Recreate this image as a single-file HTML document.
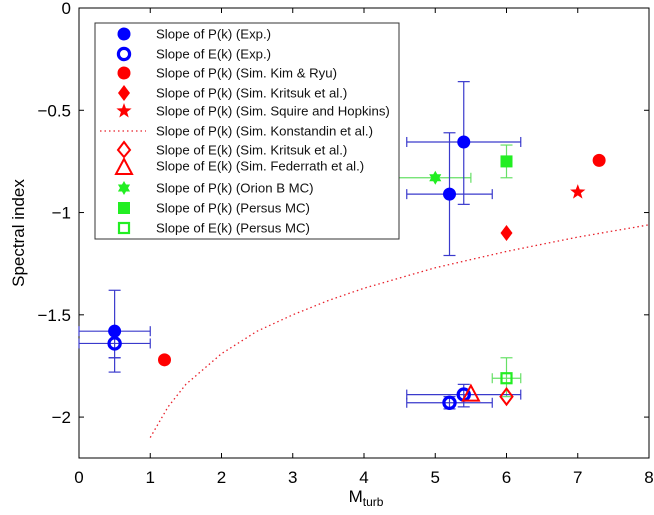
<!DOCTYPE html>
<html><head><meta charset="utf-8">
<style>
html,body{margin:0;padding:0;background:#fff;}
svg{display:block;font-family:"Liberation Sans",sans-serif;}
</style></head>
<body>
<svg id="chart" width="654" height="515" viewBox="0 0 654 515">
<g id="axes"></g>
<g id="marks"></g>
<g id="legend"></g>
<text x="366" y="502" font-size="17" text-anchor="middle">M<tspan font-size="12" dy="4">turb</tspan></text>
<text transform="translate(24,233) rotate(-90)" font-size="17" text-anchor="middle">Spectral index</text>
</svg>
<script>
const xTicks=[0,1,2,3,4,5,6,7,8];
const yTicks=[0,-0.5,-1,-1.5,-2];
const yTickLabels=["0","\u22120.5","\u22121","\u22121.5","\u22122"];
// series: [x, y, xlo, xhi, ylo, yhi]
const expP=[[0.5,-1.58,0,1,-1.78,-1.38],[5.2,-0.91,4.6,5.8,-1.21,-0.61],[5.4,-0.655,4.6,6.2,-0.96,-0.36]];
const expE=[[0.5,-1.64,0,1,-1.71,-1.71],[5.2,-1.93,4.6,5.8,-1.96,-1.90],[5.4,-1.89,4.6,6.2,-1.95,-1.84]];
const kimRyuX=[1.2,7.3], kimRyuY=[-1.72,-0.745];
const kritsukPX=[6], kritsukPY=[-1.1];
const squireX=[7], squireY=[-0.9];
const konX=[1,1.25,1.5,2,2.5,3,3.5,4,5,6,7,8];
const konY=[-2.1,-1.95,-1.84,-1.69,-1.58,-1.5,-1.43,-1.37,-1.27,-1.19,-1.12,-1.06];
const kritsukEX=[6], kritsukEY=[-1.9];
const federrathX=[5.5], federrathY=[-1.89];
const orion=[[5.0,-0.83,4.4,5.5,-0.83,-0.83]];
const persusP=[[6,-0.75,6,6,-0.83,-0.67]];
const persusE=[[6,-1.81,5.8,6.2,-1.9,-1.71]];

const L=79,R=649,T=8,B=458;
const sx=v=>L+(v-0)/8*(R-L);
const sy=v=>T+(0-v)/2.2*(B-T);
const NS="http://www.w3.org/2000/svg";
function mk(tag,attrs,parent){const e=document.createElementNS(NS,tag);for(const k in attrs)e.setAttribute(k,attrs[k]);parent.appendChild(e);return e;}
const axes=document.getElementById('axes'),marks=document.getElementById('marks'),leg=document.getElementById('legend');

let fr=mk('rect',{x:L,y:T,width:R-L,height:B-T,fill:'none',stroke:'#000','stroke-width':1},axes);

xTicks.forEach(v=>{const x=sx(v);
 mk('line',{x1:x,y1:B,x2:x,y2:B-5,stroke:'#000'},axes);
 mk('line',{x1:x,y1:T,x2:x,y2:T+5,stroke:'#000'},axes);
 const t=mk('text',{x:x,y:B+25,'font-size':17,'text-anchor':'middle'},axes);t.textContent=v;
 });
yTicks.forEach((v,i)=>{const y=sy(v);
 mk('line',{x1:L,y1:y,x2:L+5,y2:y,stroke:'#000'},axes);
 mk('line',{x1:R,y1:y,x2:R-5,y2:y,stroke:'#000'},axes);
 const t=mk('text',{x:L-8,y:y+6,'font-size':17,'text-anchor':'end'},axes);t.textContent=yTickLabels[i];
 });

function errbars(d,col){d.forEach(p=>{const g=mk('g',{stroke:col,'stroke-width':1.2,fill:'none'},marks);
 
 const cx=sx(p[0]),cy=sy(p[1]);
 if(p[2]!==p[3]){mk('line',{x1:sx(p[2]),y1:cy,x2:sx(p[3]),y2:cy},g);
  [p[2],p[3]].forEach(v=>mk('line',{x1:sx(v),y1:cy-5,x2:sx(v),y2:cy+5},g));}
 if(p[4]!==p[5]||p[4]!==p[1]){mk('line',{x1:cx,y1:sy(p[4]),x2:cx,y2:sy(p[5])},g);
  [p[4],p[5]].forEach(v=>mk('line',{x1:cx-6,y1:sy(v),x2:cx+6,y2:sy(v)},g));}
});}
function marker(type,cx,cy,col,parent,s){s=s||1;let e;
 if(type==='fcircle')e=mk('circle',{cx,cy,r:6.5*s,fill:col},parent);
 else if(type==='ocircle')e=mk('circle',{cx,cy,r:5.6*s,fill:'none',stroke:col,'stroke-width':3.2},parent);
 else if(type==='fdiamond')e=mk('polygon',{points:`${cx},${cy-8} ${cx+6},${cy} ${cx},${cy+8} ${cx-6},${cy}`,fill:col},parent);
 else if(type==='odiamond')e=mk('polygon',{points:`${cx},${cy-8} ${cx+6},${cy} ${cx},${cy+8} ${cx-6},${cy}`,fill:'none',stroke:col,'stroke-width':2},parent);
 else if(type==='star'){let p=[];for(let i=0;i<10;i++){const a=-Math.PI/2+i*Math.PI/5,r=i%2?3.3:8;p.push((cx+r*Math.cos(a)).toFixed(1)+','+(cy+r*Math.sin(a)).toFixed(1));}e=mk('polygon',{points:p.join(' '),fill:col},parent);}
 else if(type==='hex'){let p=[];for(let i=0;i<12;i++){const a=-Math.PI/2+i*Math.PI/6,r=i%2?4:7;p.push((cx+r*Math.cos(a)).toFixed(1)+','+(cy+r*Math.sin(a)).toFixed(1));}e=mk('polygon',{points:p.join(' '),fill:col},parent);}
 else if(type==='otri')e=mk('polygon',{points:`${cx},${cy-9} ${cx+8},${cy+6} ${cx-8},${cy+6}`,fill:'none',stroke:col,'stroke-width':2},parent);
 else if(type==='fsquare')e=mk('rect',{x:cx-6,y:cy-6,width:12,height:12,fill:col},parent);
 else if(type==='osquare')e=mk('rect',{x:cx-5,y:cy-5,width:10,height:10,fill:'none',stroke:col,'stroke-width':2.2},parent);
 return e;}

const kon=mk('polyline',{points:konX.map((x,i)=>sx(x)+','+sy(konY[i])).join(' '),fill:'none',stroke:'#e8202a','stroke-width':1.3,'stroke-dasharray':'1.5 3'},marks);


const BLUE='#0000ff',RED='#ff0000',GREEN='#22ee22',EB='#3a3acc',GEB='#66e066';
errbars(orion,GEB);errbars(persusP,GEB);errbars(persusE,GEB);
errbars(expP,EB);errbars(expE,EB);
function pts(xs,ys,type,col,name){xs.forEach((x,i)=>{const e=marker(type,sx(x),sy(ys[i]),col,marks);
 });}
pts(expP.map(p=>p[0]),expP.map(p=>p[1]),'fcircle',BLUE,'exp-p-point');
pts(expE.map(p=>p[0]),expE.map(p=>p[1]),'ocircle',BLUE,'exp-e-point');
pts(kimRyuX,kimRyuY,'fcircle',RED,'kim-ryu-point');
pts(kritsukPX,kritsukPY,'fdiamond',RED,'kritsuk-p-point');
pts(squireX,squireY,'star',RED,'squire-point');
pts(federrathX,federrathY,'otri',RED,'federrath-point');
pts(persusE.map(p=>p[0]),persusE.map(p=>p[1]),'osquare',GREEN,'persus-e-point');
pts(kritsukEX,kritsukEY,'odiamond',RED,'kritsuk-e-point');
pts(orion.map(p=>p[0]),orion.map(p=>p[1]),'hex',GREEN,'orion-point');
pts(persusP.map(p=>p[0]),persusP.map(p=>p[1]),'fsquare',GREEN,'persus-p-point');

const lb=mk('rect',{x:95,y:23,width:304,height:216,fill:'#fff',stroke:'#333','stroke-width':1},leg);

const entries=[['fcircle',BLUE,'Slope of P(k) (Exp.)',34],['ocircle',BLUE,'Slope of E(k) (Exp.)',54],['fcircle',RED,'Slope of P(k) (Sim. Kim & Ryu)',73],['fdiamond',RED,'Slope of P(k) (Sim. Kritsuk et al.)',93],['star',RED,'Slope of P(k) (Sim. Squire and Hopkins)',111],['line',RED,'Slope of P(k) (Sim. Konstandin et al.)',131],['odiamond',RED,'Slope of E(k) (Sim. Kritsuk et al.)',150],['otri',RED,'Slope of E(k) (Sim. Federrath et al.)',166],['hex',GREEN,'Slope of P(k) (Orion B MC)',188],['fsquare',GREEN,'Slope of P(k) (Persus MC)',208],['osquare',GREEN,'Slope of E(k) (Persus MC)',228]];
entries.forEach(en=>{const g=mk('g',{},leg);
 
 if(en[0]==='line')mk('line',{x1:100,y1:en[3],x2:146,y2:en[3],stroke:'#e8202a','stroke-width':1.2,'stroke-dasharray':'1.5 3'},g);
 else if(en[0]==='odiamond')mk('polygon',{points:`124,${en[3]-8} 130,${en[3]} 124,${en[3]+7} 118,${en[3]}`,fill:'none',stroke:RED,'stroke-width':2},g);
 else if(en[0]==='otri')mk('polygon',{points:`124,${en[3]-7} 132,${en[3]+8} 116,${en[3]+8}`,fill:'none',stroke:RED,'stroke-width':2},g);
 else marker(en[0],124,en[3],en[1],g);
 const t=mk('text',{x:156,y:en[3]+4.5,'font-size':13.2,fill:'#111'},g);t.textContent=en[2];});
</script>
</body></html>
